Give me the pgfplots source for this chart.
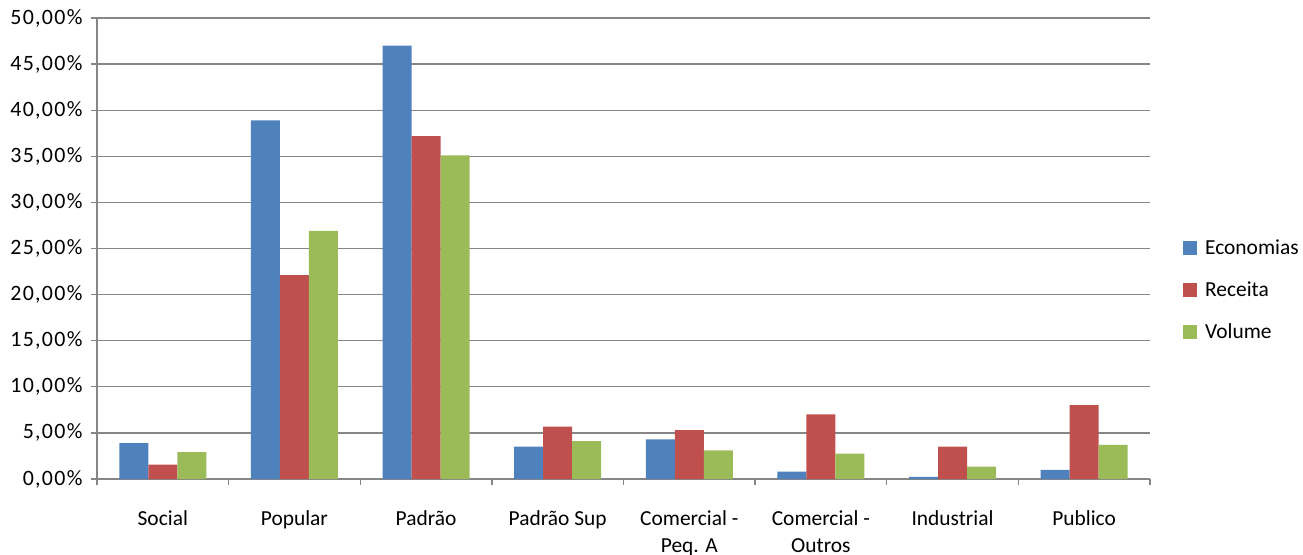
\documentclass[border=0pt]{standalone}
\usepackage{pgfplots}
\pgfplotsset{compat=1.18}
\usepackage{fontspec}
\setmainfont{Carlito}
\newfontfamily\yfont[LetterSpace=6]{Carlito}
\definecolor{cblue}{HTML}{4F81BD}
\definecolor{cred}{HTML}{C0504D}
\definecolor{cgreen}{HTML}{9BBB59}
\definecolor{cgrid}{HTML}{868686}
\begin{document}
\begin{tikzpicture}[font=\fontsize{21.5}{27}\selectfont]
\useasboundingbox (-97bp,-76bp) rectangle (1206bp,479bp);
\clip (-97bp,-76bp) rectangle (1206bp,479bp);
\begin{axis}[
  at={(0,0)}, anchor=south west,
  scale only axis, width=1053bp, height=461bp,
  ybar=0pt, bar width=29bp,
  xmin=-0.5, xmax=7.5, ymin=0, ymax=50,
  axis x line=bottom, axis y line=left,
  axis line style={draw=cgrid, line width=1.3bp, -},
  xtick={0,...,7},
  xticklabels={Social, Popular, Padrão, Padrão Sup, {Comercial -\\Peq. A}, {Comercial -\\Outros}, Industrial, Publico},
  xticklabel style={align=center, font=\fontsize{21.5}{27}\selectfont, yshift=-22bp},
  major x tick style={draw=none},
  minor xtick={-0.5,0.5,...,7.5},
  minor x tick style={draw=cgrid, line width=1.3bp},
  tick align=outside,
  minor tick length=6bp, major tick length=6bp,
  ytick={0,5,...,50},
  y tick style={draw=cgrid, line width=1.3bp},
  ymajorgrids, major grid style={draw=cgrid, line width=1.3bp},
  /pgf/number format/assume math mode=true,
  yticklabel={\pgfmathprintnumber[fixed,fixed zerofill,precision=2,use comma]{\tick}\%},
  yticklabel style={font=\yfont\fontsize{22}{24}\selectfont, xshift=-5bp},
  legend style={at={(1.0266,0.41)}, anchor=west, draw=none, fill=none,
    font=\fontsize{21.5}{24}\selectfont, row sep=22bp, inner sep=0pt},
  legend cell align=left,
  legend image code/.code={\fill[#1] (5bp,-7bp) rectangle (19bp,7bp); \path (0bp,0bp) (25bp,0bp);},
]
\addplot[fill=cblue, draw=none] coordinates {(0,3.9) (1,38.9) (2,47.0) (3,3.5) (4,4.3) (5,0.8) (6,0.22) (7,1.0)};
\addplot[fill=cred, draw=none] coordinates {(0,1.57) (1,22.1) (2,37.2) (3,5.67) (4,5.3) (5,7.0) (6,3.5) (7,8.0)};
\addplot[fill=cgreen, draw=none] coordinates {(0,2.92) (1,26.9) (2,35.1) (3,4.1) (4,3.1) (5,2.75) (6,1.35) (7,3.7)};
\legend{Economias, Receita, Volume}
\end{axis}
\end{tikzpicture}
\end{document}
